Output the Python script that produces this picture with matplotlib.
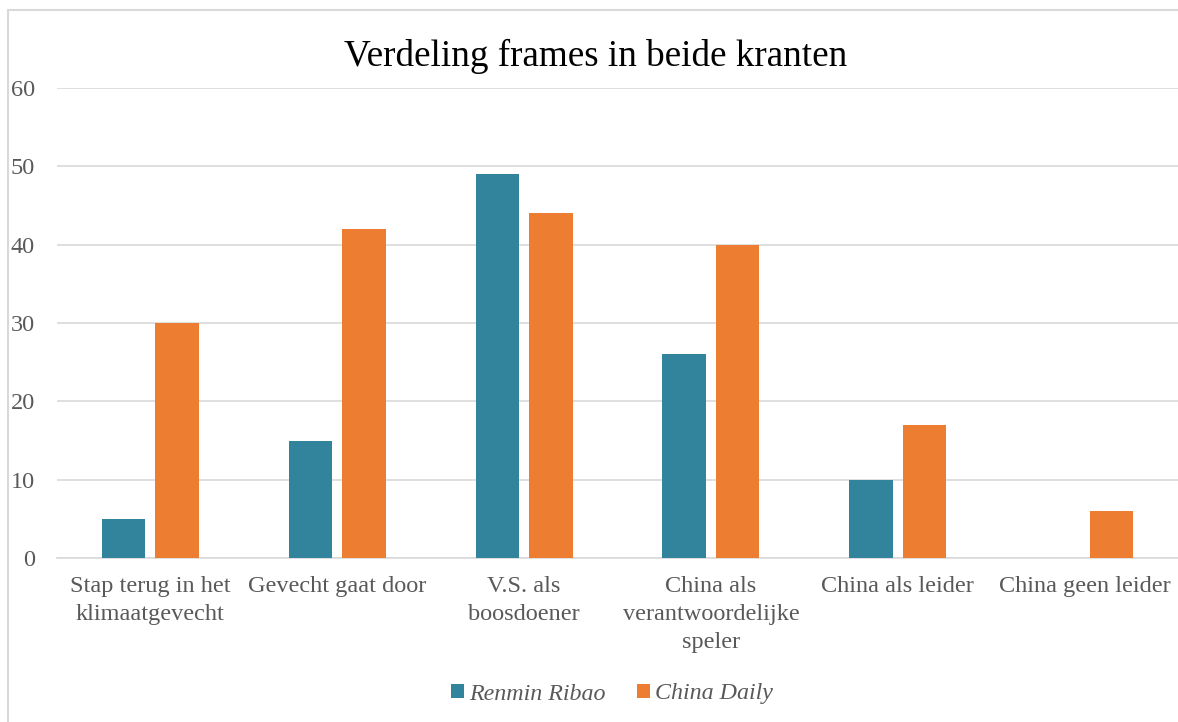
import matplotlib
matplotlib.use("Agg")
import matplotlib.pyplot as plt
import numpy as np
from matplotlib.patches import Rectangle

categories = ["Stap terug in het\nklimaatgevecht", "Gevecht gaat door", "V.S. als\nboosdoener",
              "China als\nverantwoordelijke\nspeler", "China als leider", "China geen leider"]
renmin = [5, 15, 49, 26, 10, 0]
china_daily = [30, 42, 44, 40, 17, 6]
series_names = ["Renmin Ribao", "China Daily"]
yticks = [0, 10, 20, 30, 40, 50, 60]

plt.rcParams['font.family'] = ['Liberation Serif', 'DejaVu Serif']

W, H = 1178, 722
fig = plt.figure(figsize=(W / 100, H / 100), dpi=100)
fig.patch.set_facecolor('white')

# outer chart border
fig.patches.append(Rectangle((8 / W, -0.05), 1.2, (H - 10) / H + 0.05, transform=fig.transFigure,
                             fill=False, edgecolor='#D9D9D9', linewidth=1.5))

ax = fig.add_axes([57 / W, (H - 558) / H, (1178 - 57) / W, (558 - 88) / H])
x = np.arange(len(categories))
bw = 0.233
off = 0.143
teal = '#31849B'
orange = '#ED7D31'
ax.bar(x - off, renmin, bw, color=teal, label=series_names[0], zorder=3)
ax.bar(x + off, china_daily, bw, color=orange, label=series_names[1], zorder=3)

ax.set_xlim(-0.5, len(categories) - 0.5)
ax.set_ylim(0, 60)
ax.set_yticks(yticks)
ax.set_yticklabels([str(v) for v in yticks])
ax.yaxis.grid(True, color='#D9D9D9', linewidth=1.2, zorder=0)
ax.set_axisbelow(True)
for s in ['top', 'right', 'left']:
    ax.spines[s].set_visible(False)
ax.spines['bottom'].set_color('#D9D9D9')
ax.spines['bottom'].set_linewidth(1.2)
ax.tick_params(axis='both', length=0, colors='#595959', labelsize=17.5)
ax.tick_params(axis='y', pad=16)
ax.tick_params(axis='x', pad=13)
ax.set_xticks(x)
ax.set_xticklabels(categories, linespacing=1.45)

fig.text(596 / W, 1 - 56 / H, "Verdeling frames in beide kranten", ha='center', va='center',
         fontsize=26.7, color='black')

leg = fig.legend(loc='center', bbox_to_anchor=(612 / W, 1 - 694 / H), ncol=2, frameon=False,
                 prop={'style': 'italic', 'size': 17.3}, handlelength=0.55, handleheight=0.55,
                 handletextpad=0.2, columnspacing=1.3)
for t in leg.get_texts():
    t.set_color('#595959')

fig.savefig('out.png', dpi=100)
